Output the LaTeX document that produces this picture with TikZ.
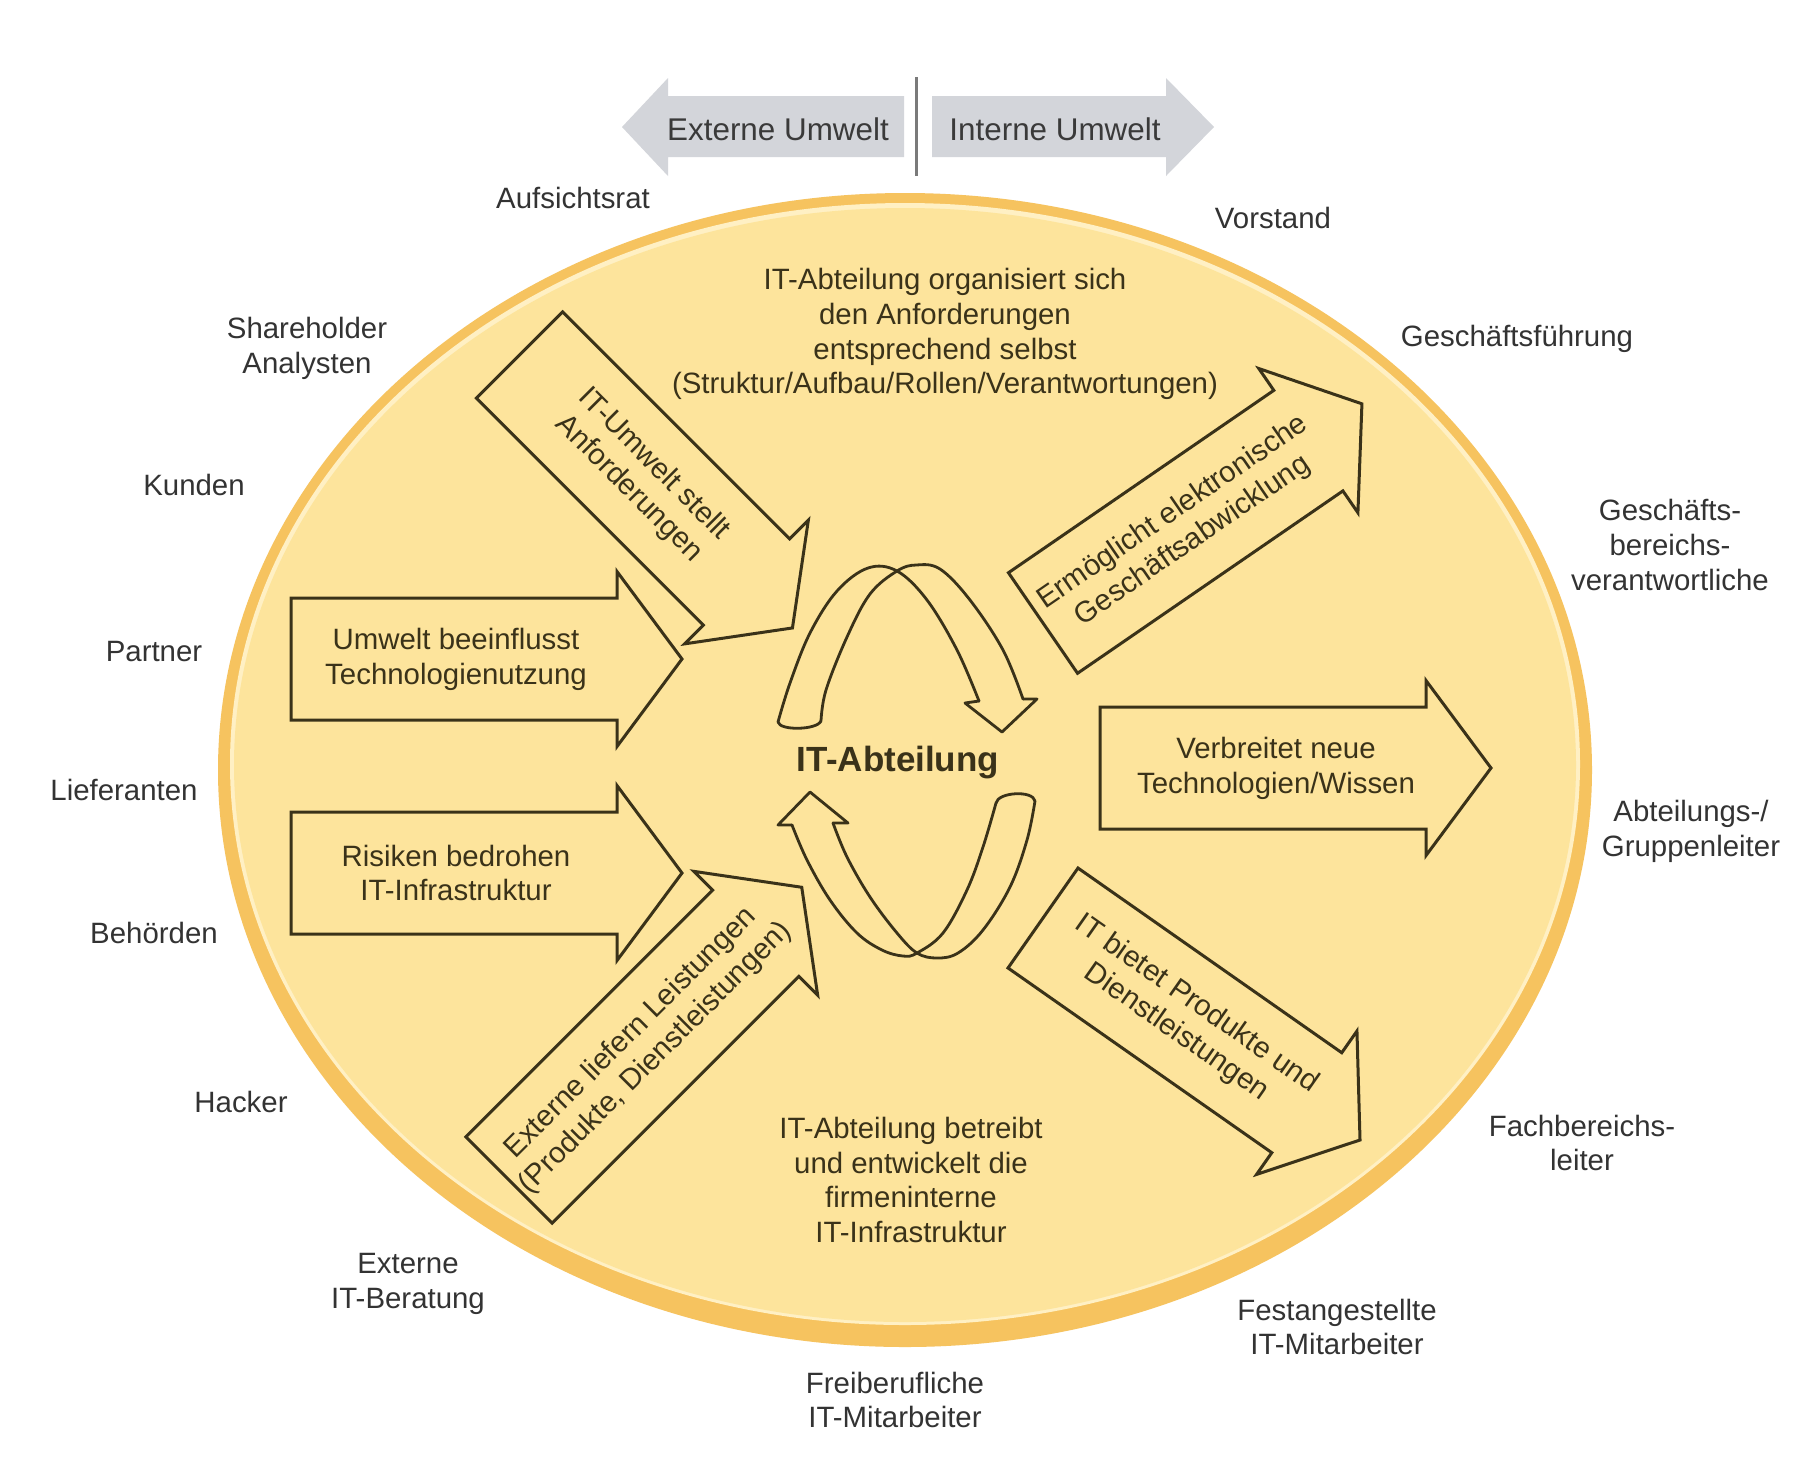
\documentclass[tikz,border=0pt]{standalone}
\usepackage{fontspec}
\setmainfont{Liberation Sans}
\definecolor{cRim}{HTML}{F6C35F}
\definecolor{cDisc}{HTML}{FDE49C}
\definecolor{cHi}{HTML}{FFF0C4}
\definecolor{cInk}{HTML}{3A3219}
\definecolor{cLbl}{HTML}{333333}
\definecolor{cGrey}{HTML}{D3D5DA}
\definecolor{cGreyTxt}{HTML}{3A3A3A}
\definecolor{cDiv}{HTML}{7A7A7A}
% #1 tail centre, #2 angle, #3 length, #4 node name, #5 text, #6 text position along axis
\newcommand{\blockarrow}[6]{%
  \begin{scope}[shift={#1},rotate=#2]
    \draw[barrowline] (0,-61) -- ({#3-65},-61) -- ({#3-65},-87.5) -- (#3,0)
      -- ({#3-65},87.5) -- ({#3-65},61) -- (0,61) -- cycle;
    \node[inlbl,rotate=#2] (#4) at (#6,0) {#5};
  \end{scope}}
\begin{document}
\begin{tikzpicture}[x=0.5pt,y=-0.5pt,
  outlbl/.style={text=cLbl,align=center,inner sep=0pt,font=\fontsize{14.7}{17.4}\selectfont},
  inlbl/.style={text=cInk,align=center,inner sep=0pt,font=\fontsize{14.7}{17.4}\selectfont},
  toplbl/.style={text=cGreyTxt,inner sep=0pt,font=\fontsize{15.7}{18}\selectfont},
  barrowline/.style={draw=cInk,line width=1.5pt,line join=miter},
  ribbon/.style={draw=cInk,line width=1.4pt,line join=round,line cap=round}]
\useasboundingbox (0,0) rectangle (1810,1464);
\fill[white] (0,0) rectangle (1810,1464);

% ---- top direction arrows
\fill[cGrey] (904,96) -- (668,96) -- (668,78) -- (622,127) -- (668,176) -- (668,157) -- (904,157) -- cycle;
\fill[cGrey] (932,96) -- (1166,96) -- (1166,78) -- (1214,127) -- (1166,176) -- (1166,157) -- (932,157) -- cycle;
\coordinate (divtop) at (916,77);
\coordinate (divbot) at (916,176);
\draw[cDiv,line width=1.5pt] (divtop) -- (divbot);
\node[toplbl] (ext) at (778,129) {Externe Umwelt};
\node[toplbl] (int) at (1055,129) {Interne Umwelt};

% ---- disc (rim thicker at the bottom)
\fill[cRim] (905,770) ellipse [x radius=687,y radius=577];
\fill[cHi] (905,764) ellipse [x radius=675,y radius=561];
\fill[cDisc] (905,765) ellipse [x radius=671,y radius=557];

% ---- block arrows
\blockarrow{(291,659)}{0}{391}{aUmwelt}{Umwelt beeinflusst\\Technologienutzung}{165}
\blockarrow{(291,873)}{0}{391}{aRisiken}{Risiken bedrohen\\IT-Infrastruktur}{165}
\blockarrow{(1100,768)}{0}{391}{aVerbreitet}{Verbreitet neue\\Technologien/Wissen}{176}
\blockarrow{(519.5,355)}{-45}{386}{aUmweltIT}{IT-Umwelt stellt\\Anforderungen}{172}
\blockarrow{(1043,623)}{34.5}{387}{aErmoeglicht}{Ermöglicht elektronische\\Geschäftsabwicklung}{170}
\blockarrow{(509,1180)}{45}{414}{aExterne}{Externe liefern Leistungen\\(Produkte, Dienstleistungen)}{190}
\blockarrow{(1043,918)}{-35}{387}{aBietet}{IT bietet Produkte und\\Dienstleistungen}{175}

% ---- central twisted ribbon arrows
% upper
\draw[ribbon] plot[smooth,tension=0.6] coordinates {(778,722) (790,683) (810,633) (837,591) (868,568) (897,571) (927,600) (957,650) (979,701)};
\draw[ribbon] plot[smooth,tension=0.6] coordinates {(821,721) (826,690) (847,637) (870,594) (897,571) (916,565) (940,569) (970,600) (1003,650) (1023,699)};
\draw[ribbon] (979,701) -- (965,703) -- (1002,732) -- (1037,699) -- (1023,699);
\draw[ribbon] (778,722) .. controls (780,731) and (817,730) .. (821,721);
% lower
\draw[ribbon] plot[smooth,tension=0.6] coordinates {(792,825) (807,860) (830,900) (857,933) (882,950) (903,956) (917,953) (943,933) (967,890) (983,847) (996,803)};
\draw[ribbon] plot[smooth,tension=0.6] coordinates {(833,823) (847,857) (870,897) (897,933) (917,953) (937,958) (958,953) (983,930) (1010,887) (1027,840) (1035,801)};
\draw[ribbon] (792,825) -- (778,825) -- (810,792) -- (848,823) -- (833,823);
\draw[ribbon] (996,803) .. controls (998,792) and (1033,790) .. (1035,801);

% ---- texts inside the disc
\node[text=cInk,inner sep=0pt,font=\fontsize{17.5}{20}\selectfont\bfseries] (center) at (898,763) {IT-Abteilung};
\node[inlbl] (organisiert) at (945,334) {IT-Abteilung organisiert sich\\den Anforderungen\\entsprechend selbst\\(Struktur/Aufbau/Rollen/Verantwortungen)};
\node[inlbl] (betreibt) at (911,1180) {IT-Abteilung betreibt\\und entwickelt die\\firmeninterne\\IT-Infrastruktur};

% ---- stakeholders around the disc
\node[outlbl] (aufsichtsrat) at (573,198) {Aufsichtsrat};
\node[outlbl] (vorstand) at (1273,218) {Vorstand};
\node[outlbl] (shareholder) at (307,348) {Shareholder\\Analysten};
\node[outlbl] (gf) at (1517,339) {Geschäftsführung};
\node[outlbl] (kunden) at (194,485) {Kunden};
\node[outlbl] (gbv) at (1670,545) {Geschäfts-\\bereichs-\\verantwortliche};
\node[outlbl] (partner) at (154,652) {Partner};
\node[outlbl] (lieferanten) at (124,790) {Lieferanten};
\node[outlbl] (agl) at (1691,831) {Abteilungs-/\\Gruppenleiter};
\node[outlbl] (behoerden) at (154,933) {Behörden};
\node[outlbl] (hacker) at (241,1102) {Hacker};
\node[outlbl] (fbl) at (1582,1143) {Fachbereichs-\\leiter};
\node[outlbl] (beratung) at (408,1284) {Externe\\IT-Beratung};
\node[outlbl] (festang) at (1337,1327) {Festangestellte\\IT-Mitarbeiter};
\node[outlbl] (freiber) at (895,1400) {Freiberufliche\\IT-Mitarbeiter};
\end{tikzpicture}
\end{document}
